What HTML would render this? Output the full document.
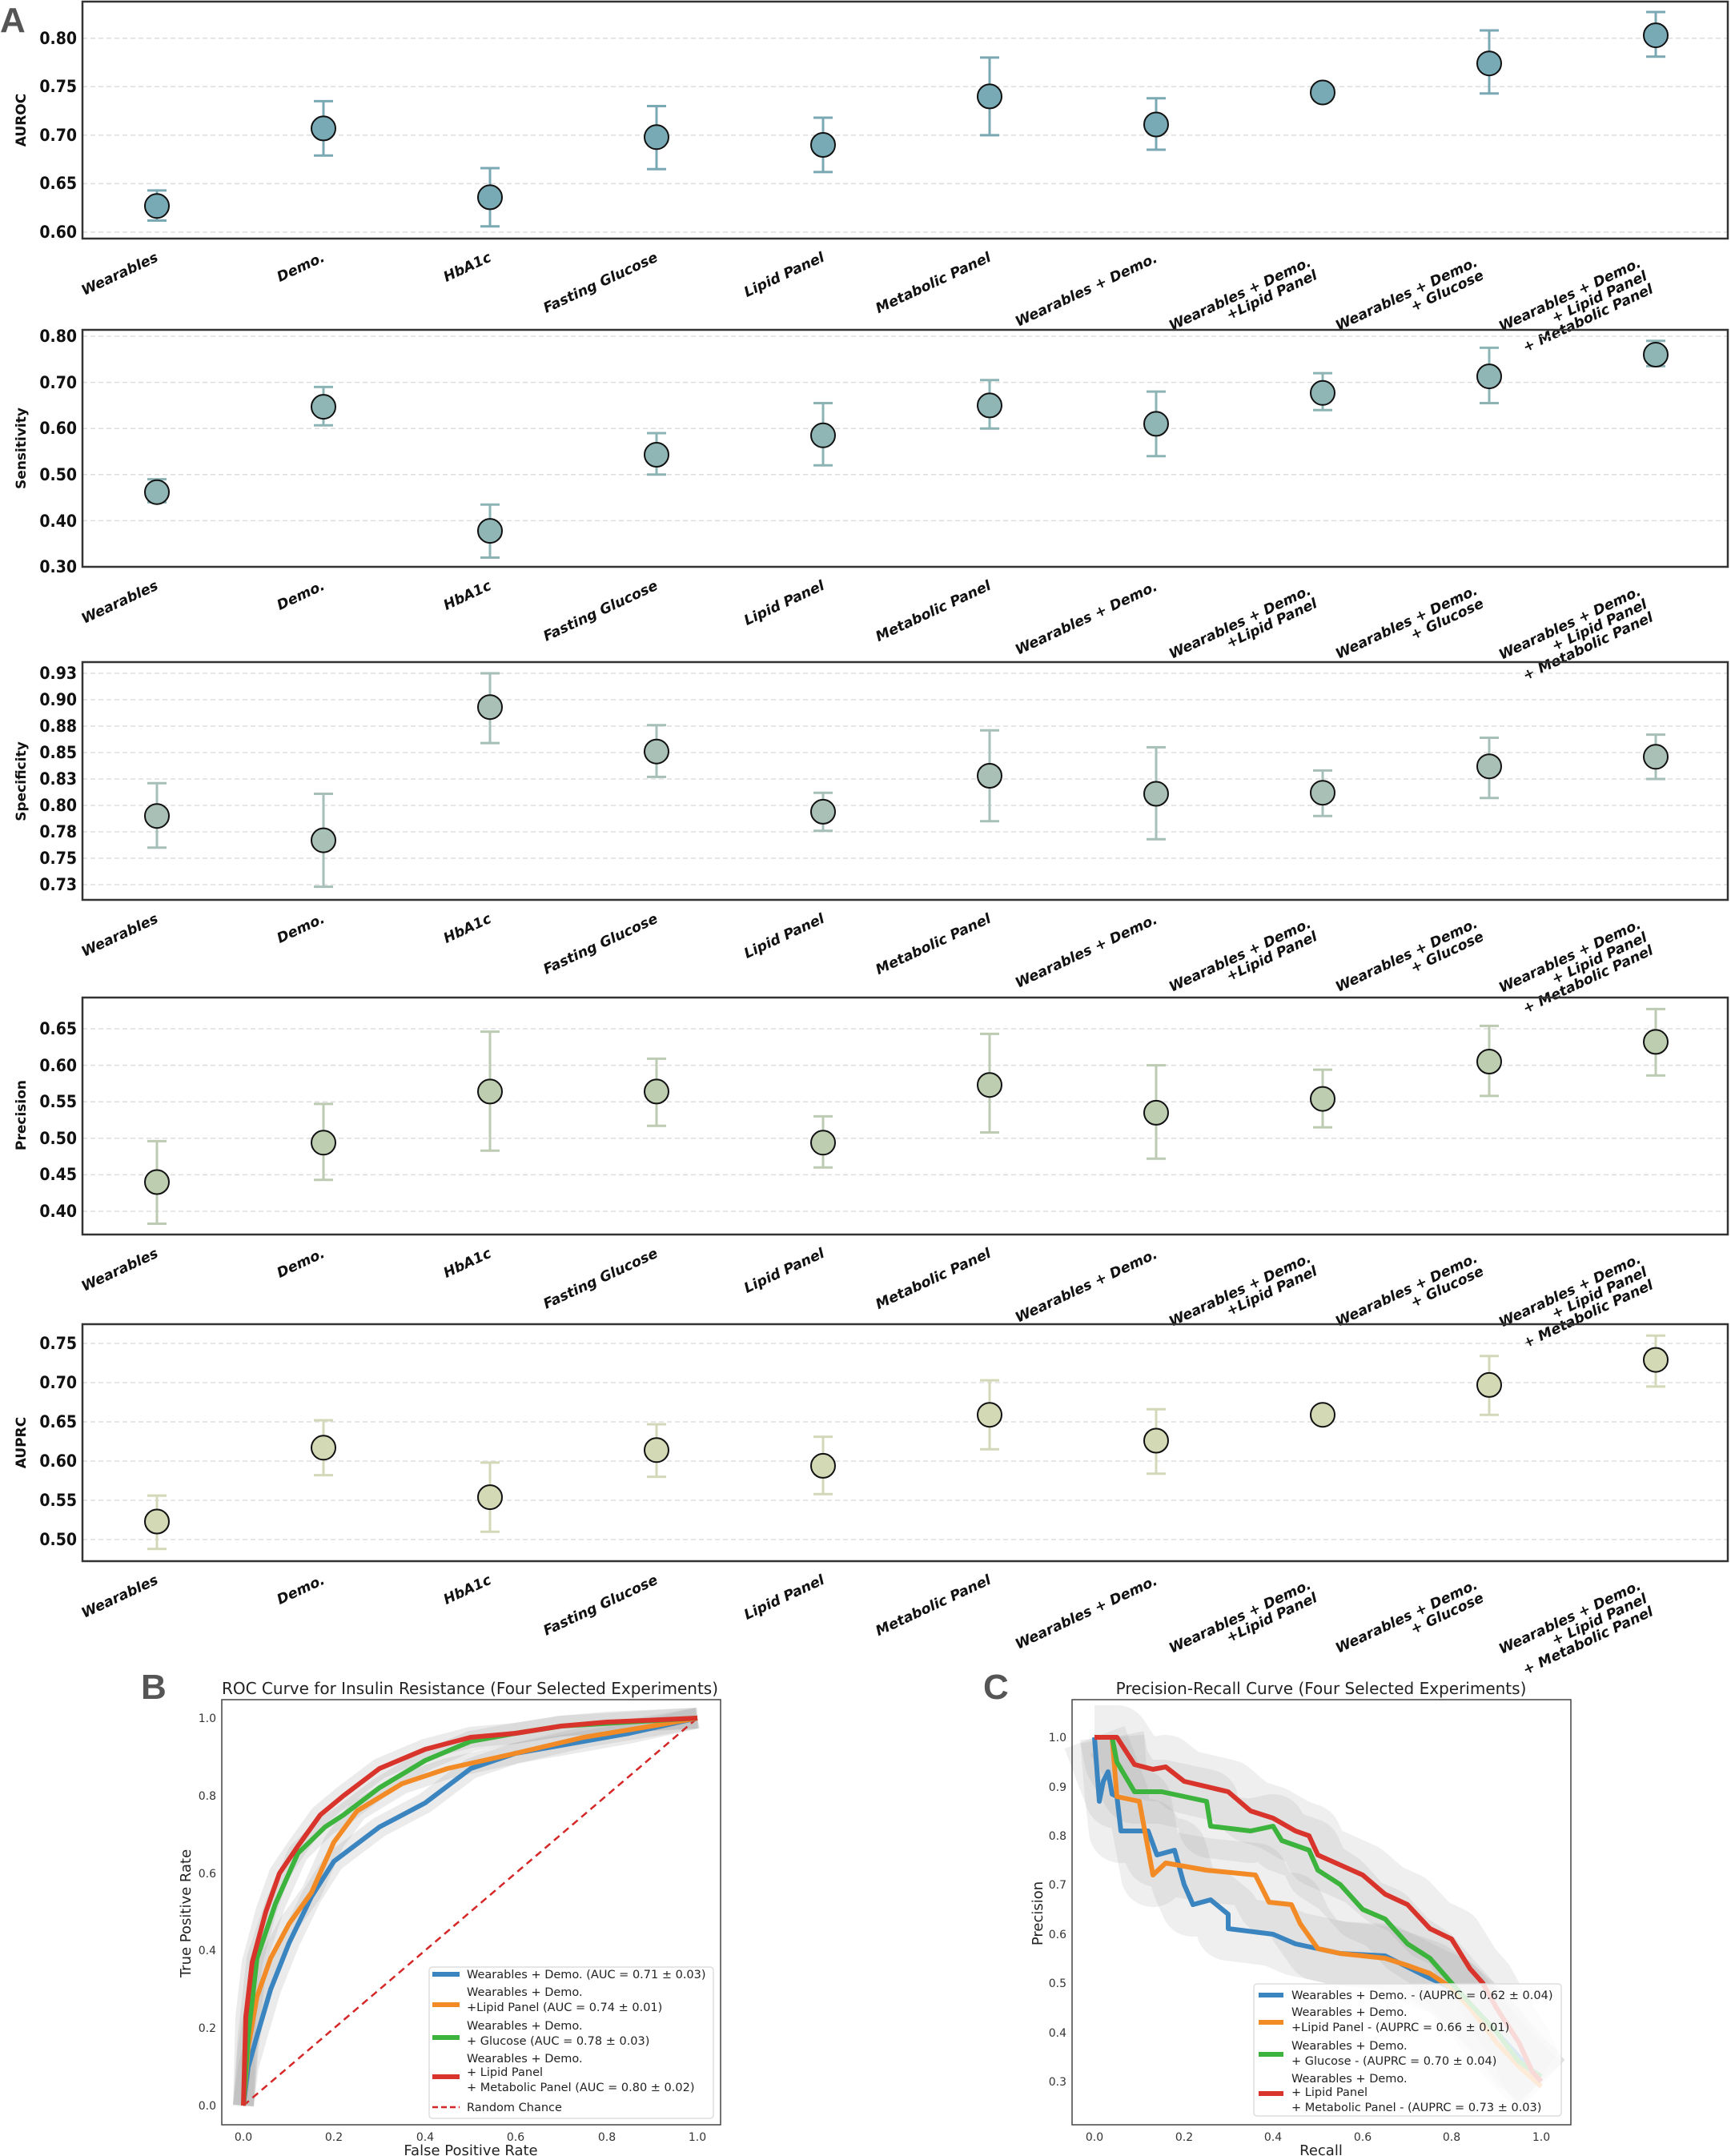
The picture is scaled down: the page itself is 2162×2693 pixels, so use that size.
<!DOCTYPE html>
<html><head><meta charset="utf-8"><style>
html,body{margin:0;padding:0;background:#fff;}
svg{display:block;}
.tk{font-family:"DejaVu Sans Condensed","Liberation Sans Narrow","Liberation Sans",sans-serif;font-weight:bold;font-size:21px;fill:#111;}
.yl{font-family:"DejaVu Sans","Liberation Sans",sans-serif;font-weight:bold;font-size:17px;fill:#111;}
.xl{font-family:"DejaVu Sans","Liberation Sans",sans-serif;font-weight:bold;font-style:italic;font-size:17.5px;fill:#111;}
.sm{font-family:"DejaVu Sans","Liberation Sans",sans-serif;font-size:14px;fill:#333;}
.lg{font-family:"DejaVu Sans","Liberation Sans",sans-serif;font-size:14.5px;fill:#222;}
.ti{font-family:"DejaVu Sans","Liberation Sans",sans-serif;font-size:20px;fill:#222;}
.ax{font-family:"DejaVu Sans","Liberation Sans",sans-serif;font-size:18px;fill:#222;}
.big{font-family:"Liberation Sans",sans-serif;font-weight:bold;font-size:44px;fill:#555;}
.grid line{stroke:#ddd;stroke-width:1.5;stroke-dasharray:6,4;}
</style></head><body>
<svg width="2162" height="2693" viewBox="0 0 2162 2693" xmlns="http://www.w3.org/2000/svg">
<defs>
<g id="xlabs">
<g transform="translate(192,311) rotate(-25)"><text class="xl" text-anchor="end" y="16">Wearables</text></g>
<g transform="translate(400,311) rotate(-25)"><text class="xl" text-anchor="end" y="16">Demo.</text></g>
<g transform="translate(608,311) rotate(-25)"><text class="xl" text-anchor="end" y="16">HbA1c</text></g>
<g transform="translate(816,311) rotate(-25)"><text class="xl" text-anchor="end" y="16">Fasting Glucose</text></g>
<g transform="translate(1024,311) rotate(-25)"><text class="xl" text-anchor="end" y="16">Lipid Panel</text></g>
<g transform="translate(1232,311) rotate(-25)"><text class="xl" text-anchor="end" y="16">Metabolic Panel</text></g>
<g transform="translate(1440,312) rotate(-25)"><text class="xl" text-anchor="end" y="16">Wearables + Demo.</text></g>
<g transform="translate(1632,317) rotate(-25)"><text class="xl" text-anchor="end" y="16">Wearables + Demo.</text><text class="xl" text-anchor="end" y="34">+Lipid Panel</text></g>
<g transform="translate(1840,317) rotate(-25)"><text class="xl" text-anchor="end" y="16">Wearables + Demo.</text><text class="xl" text-anchor="end" y="34">+ Glucose</text></g>
<g transform="translate(2044,318) rotate(-25)"><text class="xl" text-anchor="end" y="16">Wearables + Demo.</text><text class="xl" text-anchor="end" y="34">+ Lipid Panel</text><text class="xl" text-anchor="end" y="52">+ Metabolic Panel</text></g>
</g>
</defs>

<text class="big" x="0" y="40">A</text>

<!-- Panel 1 AUROC -->
<g class="grid"><line x1="103" x2="2158" y1="290" y2="290"/><line x1="103" x2="2158" y1="229.4" y2="229.4"/><line x1="103" x2="2158" y1="168.9" y2="168.9"/><line x1="103" x2="2158" y1="108.3" y2="108.3"/><line x1="103" x2="2158" y1="47.7" y2="47.7"/></g>
<g class="tk" text-anchor="end"><text x="96" y="297">0.60</text><text x="96" y="236">0.65</text><text x="96" y="176">0.70</text><text x="96" y="115">0.75</text><text x="96" y="55">0.80</text></g>
<text class="yl" transform="translate(32,150) rotate(-90)" text-anchor="middle">AUROC</text>
<g stroke="#7aa9b3" stroke-width="3" fill="none">
<path d="M196 275.5V237.9M184 275.5H208M184 237.9H208"/>
<path d="M404 194.3V126.4M392 194.3H416M392 126.4H416"/>
<path d="M612 282.7V210M600 282.7H624M600 210H624"/>
<path d="M820 211.3V132.5M808 211.3H832M808 132.5H832"/>
<path d="M1028 214.9V147M1016 214.9H1040M1016 147H1040"/>
<path d="M1236 168.9V71.9M1224 168.9H1248M1224 71.9H1248"/>
<path d="M1444 187V122.8M1432 187H1456M1432 122.8H1456"/>
<path d="M1652 119.2V111.9M1640 119.2H1664M1640 111.9H1664"/>
<path d="M1860 116.7V38M1848 116.7H1872M1848 38H1872"/>
<path d="M2068 70.7V15M2056 70.7H2080M2056 15H2080"/>
</g>
<g fill="#78aab5" stroke="#111" stroke-width="2">
<circle cx="196" cy="257.3" r="15"/><circle cx="404" cy="160.4" r="15"/><circle cx="612" cy="246.4" r="15"/><circle cx="820" cy="171.3" r="15"/><circle cx="1028" cy="181" r="15"/><circle cx="1236" cy="120.4" r="15"/><circle cx="1444" cy="155.5" r="15"/><circle cx="1652" cy="115.5" r="15"/><circle cx="1860" cy="79.2" r="15"/><circle cx="2068" cy="44.1" r="15"/>
</g>
<rect x="103" y="2" width="2055" height="296" fill="none" stroke="#333" stroke-width="2.5"/>
<use href="#xlabs"/>

<!-- Panel 2 Sensitivity -->
<g class="grid"><line x1="103" x2="2158" y1="650.4" y2="650.4"/><line x1="103" x2="2158" y1="592.8" y2="592.8"/><line x1="103" x2="2158" y1="535.2" y2="535.2"/><line x1="103" x2="2158" y1="477.6" y2="477.6"/><line x1="103" x2="2158" y1="420" y2="420"/></g>
<g class="tk" text-anchor="end"><text x="96" y="715">0.30</text><text x="96" y="658">0.40</text><text x="96" y="600">0.50</text><text x="96" y="542">0.60</text><text x="96" y="485">0.70</text><text x="96" y="427">0.80</text></g>
<text class="yl" transform="translate(32,560) rotate(-90)" text-anchor="middle">Sensitivity</text>
<g stroke="#8db4b4" stroke-width="3" fill="none">
<path d="M196 627.4V598.6M184 627.4H208M184 598.6H208"/>
<path d="M404 531.2V483.4M392 531.2H416M392 483.4H416"/>
<path d="M612 696.5V630.2M600 696.5H624M600 630.2H624"/>
<path d="M820 592.8V541M808 592.8H832M808 541H832"/>
<path d="M1028 581.3V503.5M1016 581.3H1040M1016 503.5H1040"/>
<path d="M1236 535.2V474.7M1224 535.2H1248M1224 474.7H1248"/>
<path d="M1444 569.8V489.1M1432 569.8H1456M1432 489.1H1456"/>
<path d="M1652 512.2V466.1M1640 512.2H1664M1640 466.1H1664"/>
<path d="M1860 503.5V434.4M1848 503.5H1872M1848 434.4H1872"/>
<path d="M2068 457.4V425.8M2056 457.4H2080M2056 425.8H2080"/>
</g>
<g fill="#8fb5b5" stroke="#111" stroke-width="2">
<circle cx="196" cy="614.7" r="15"/><circle cx="404" cy="508.1" r="15"/><circle cx="612" cy="663.1" r="15"/><circle cx="820" cy="568" r="15"/><circle cx="1028" cy="543.8" r="15"/><circle cx="1236" cy="506.4" r="15"/><circle cx="1444" cy="529.4" r="15"/><circle cx="1652" cy="490.8" r="15"/><circle cx="1860" cy="470.1" r="15"/><circle cx="2068" cy="443" r="15"/>
</g>
<rect x="103" y="412" width="2055" height="296" fill="none" stroke="#333" stroke-width="2.5"/>
<use href="#xlabs" transform="translate(0,410)"/>

<!-- Panel 3 Specificity -->
<g class="grid"><line x1="103" x2="2158" y1="1105" y2="1105"/><line x1="103" x2="2158" y1="1072" y2="1072"/><line x1="103" x2="2158" y1="1039" y2="1039"/><line x1="103" x2="2158" y1="1006" y2="1006"/><line x1="103" x2="2158" y1="973" y2="973"/><line x1="103" x2="2158" y1="940" y2="940"/><line x1="103" x2="2158" y1="907" y2="907"/><line x1="103" x2="2158" y1="874" y2="874"/><line x1="103" x2="2158" y1="841" y2="841"/></g>
<g class="tk" text-anchor="end"><text x="96" y="1112">0.73</text><text x="96" y="1079">0.75</text><text x="96" y="1046">0.78</text><text x="96" y="1013">0.80</text><text x="96" y="980">0.83</text><text x="96" y="947">0.85</text><text x="96" y="914">0.88</text><text x="96" y="881">0.90</text><text x="96" y="848">0.93</text></g>
<text class="yl" transform="translate(32,976) rotate(-90)" text-anchor="middle">Specificity</text>
<g stroke="#a6bfb8" stroke-width="3" fill="none">
<path d="M196 1058.8V978.3M184 1058.8H208M184 978.3H208"/>
<path d="M404 1107.6V991.5M392 1107.6H416M392 991.5H416"/>
<path d="M612 928.1V841M600 928.1H624M600 841H624"/>
<path d="M820 970.4V905.7M808 970.4H832M808 905.7H832"/>
<path d="M1028 1037.7V990.2M1016 1037.7H1040M1016 990.2H1040"/>
<path d="M1236 1025.8V912.3M1224 1025.8H1248M1224 912.3H1248"/>
<path d="M1444 1048.2V933.4M1432 1048.2H1456M1432 933.4H1456"/>
<path d="M1652 1019.2V962.4M1640 1019.2H1664M1640 962.4H1664"/>
<path d="M1860 996.8V921.5M1848 996.8H1872M1848 921.5H1872"/>
<path d="M2068 973V917.6M2056 973H2080M2056 917.6H2080"/>
</g>
<g fill="#a8c0b5" stroke="#111" stroke-width="2">
<circle cx="196" cy="1019.2" r="15"/><circle cx="404" cy="1049.6" r="15"/><circle cx="612" cy="883.2" r="15"/><circle cx="820" cy="938.7" r="15"/><circle cx="1028" cy="1013.9" r="15"/><circle cx="1236" cy="969" r="15"/><circle cx="1444" cy="991.5" r="15"/><circle cx="1652" cy="990.2" r="15"/><circle cx="1860" cy="957.2" r="15"/><circle cx="2068" cy="945.3" r="15"/>
</g>
<rect x="103" y="827" width="2055" height="297" fill="none" stroke="#333" stroke-width="2.5"/>
<use href="#xlabs" transform="translate(0,826)"/>

<!-- Panel 4 Precision -->
<g class="grid"><line x1="103" x2="2158" y1="1513" y2="1513"/><line x1="103" x2="2158" y1="1467.4" y2="1467.4"/><line x1="103" x2="2158" y1="1421.8" y2="1421.8"/><line x1="103" x2="2158" y1="1376.2" y2="1376.2"/><line x1="103" x2="2158" y1="1330.6" y2="1330.6"/><line x1="103" x2="2158" y1="1285" y2="1285"/></g>
<g class="tk" text-anchor="end"><text x="96" y="1520">0.40</text><text x="96" y="1474">0.45</text><text x="96" y="1429">0.50</text><text x="96" y="1383">0.55</text><text x="96" y="1338">0.60</text><text x="96" y="1292">0.65</text></g>
<text class="yl" transform="translate(32,1393) rotate(-90)" text-anchor="middle">Precision</text>
<g stroke="#bccbb2" stroke-width="3" fill="none">
<path d="M196 1528.5V1425.4M184 1528.5H208M184 1425.4H208"/>
<path d="M404 1473.8V1378.9M392 1473.8H416M392 1378.9H416"/>
<path d="M612 1437.3V1288.6M600 1437.3H624M600 1288.6H624"/>
<path d="M820 1406.3V1322.4M808 1406.3H832M808 1322.4H832"/>
<path d="M1028 1458.3V1394.4M1016 1458.3H1040M1016 1394.4H1040"/>
<path d="M1236 1414.5V1291.4M1224 1414.5H1248M1224 1291.4H1248"/>
<path d="M1444 1447.3V1330.6M1432 1447.3H1456M1432 1330.6H1456"/>
<path d="M1652 1408.1V1336.1M1640 1408.1H1664M1640 1336.1H1664"/>
<path d="M1860 1368.9V1281.4M1848 1368.9H1872M1848 1281.4H1872"/>
<path d="M2068 1343.4V1260.4M2056 1343.4H2080M2056 1260.4H2080"/>
</g>
<g fill="#bdcdb0" stroke="#111" stroke-width="2">
<circle cx="196" cy="1476.5" r="15"/><circle cx="404" cy="1427.3" r="15"/><circle cx="612" cy="1363.4" r="15"/><circle cx="820" cy="1363.4" r="15"/><circle cx="1028" cy="1427.3" r="15"/><circle cx="1236" cy="1355.2" r="15"/><circle cx="1444" cy="1389.9" r="15"/><circle cx="1652" cy="1372.6" r="15"/><circle cx="1860" cy="1326" r="15"/><circle cx="2068" cy="1301.4" r="15"/>
</g>
<rect x="103" y="1246" width="2055" height="296" fill="none" stroke="#333" stroke-width="2.5"/>
<use href="#xlabs" transform="translate(0,1244)"/>

<!-- Panel 5 AUPRC -->
<g class="grid"><line x1="103" x2="2158" y1="1923" y2="1923"/><line x1="103" x2="2158" y1="1874" y2="1874"/><line x1="103" x2="2158" y1="1825" y2="1825"/><line x1="103" x2="2158" y1="1776" y2="1776"/><line x1="103" x2="2158" y1="1727" y2="1727"/><line x1="103" x2="2158" y1="1678" y2="1678"/></g>
<g class="tk" text-anchor="end"><text x="96" y="1930">0.50</text><text x="96" y="1881">0.55</text><text x="96" y="1832">0.60</text><text x="96" y="1783">0.65</text><text x="96" y="1734">0.70</text><text x="96" y="1685">0.75</text></g>
<text class="yl" transform="translate(32,1802) rotate(-90)" text-anchor="middle">AUPRC</text>
<g stroke="#d3d8b8" stroke-width="3" fill="none">
<path d="M196 1934.8V1868.1M184 1934.8H208M184 1868.1H208"/>
<path d="M404 1842.6V1774M392 1842.6H416M392 1774H416"/>
<path d="M612 1913.2V1826.9M600 1913.2H624M600 1826.9H624"/>
<path d="M820 1844.6V1779M808 1844.6H832M808 1779H832"/>
<path d="M1028 1866.2V1794.6M1016 1866.2H1040M1016 1794.6H1040"/>
<path d="M1236 1810.3V1724.1M1224 1810.3H1248M1224 1724.1H1248"/>
<path d="M1444 1840.7V1760.3M1432 1840.7H1456M1432 1760.3H1456"/>
<path d="M1652 1770.1V1764.2M1640 1770.1H1664M1640 1764.2H1664"/>
<path d="M1860 1767.2V1693.7M1848 1767.2H1872M1848 1693.7H1872"/>
<path d="M2068 1731.9V1668.2M2056 1731.9H2080M2056 1668.2H2080"/>
</g>
<g fill="#d3d8b5" stroke="#111" stroke-width="2">
<circle cx="196" cy="1900.5" r="15"/><circle cx="404" cy="1808.3" r="15"/><circle cx="612" cy="1870.1" r="15"/><circle cx="820" cy="1811.3" r="15"/><circle cx="1028" cy="1830.9" r="15"/><circle cx="1236" cy="1767.2" r="15"/><circle cx="1444" cy="1799.5" r="15"/><circle cx="1652" cy="1767.2" r="15"/><circle cx="1860" cy="1729.9" r="15"/><circle cx="2068" cy="1698.6" r="15"/>
</g>
<rect x="103" y="1654" width="2055" height="296" fill="none" stroke="#333" stroke-width="2.5"/>
<use href="#xlabs" transform="translate(0,1652)"/>

<!-- Panel B ROC -->
<text class="big" x="176" y="2122">B</text>
<text class="ti" x="587" y="2116" text-anchor="middle">ROC Curve for Insulin Resistance (Four Selected Experiments)</text>
<g fill="none" stroke="#999" stroke-opacity="0.2" stroke-linejoin="round" stroke-width="26">
<polyline points="304,2630 307,2519 315,2451 332,2388 349,2340 372,2306 400,2267 429,2243 474,2209 531,2185 588,2170 644,2165 701,2156 758,2151 871,2146"/>
<polyline points="304,2630 310,2543 321,2446 344,2378 372,2315 406,2282 429,2267 474,2233 531,2199 588,2175 644,2165 701,2156 786,2151 871,2146"/>
<polyline points="304,2630 310,2557 321,2494 338,2446 361,2403 389,2364 417,2301 446,2262 502,2228 559,2209 644,2190 729,2170 814,2156 871,2146"/>
<polyline points="304,2630 310,2582 321,2543 338,2485 361,2427 389,2369 417,2325 474,2282 531,2252 588,2209 644,2190 701,2180 786,2165 871,2146"/>
</g>
<line x1="304" y1="2630" x2="871" y2="2146" stroke="#d62728" stroke-width="2.5" stroke-dasharray="9,6"/>
<g fill="none" stroke-width="6" stroke-linejoin="round">
<polyline stroke="#3a84c0" points="304,2630 310,2582 321,2543 338,2485 361,2427 389,2369 417,2325 474,2282 531,2252 588,2209 644,2190 701,2180 786,2165 871,2146"/>
<polyline stroke="#f28a25" points="304,2630 310,2557 321,2494 338,2446 361,2403 389,2364 417,2301 446,2262 502,2228 559,2209 644,2190 729,2170 814,2156 871,2146"/>
<polyline stroke="#3cb33c" points="304,2630 310,2543 321,2446 344,2378 372,2315 406,2282 429,2267 474,2233 531,2199 588,2175 644,2165 701,2156 786,2151 871,2146"/>
<polyline stroke="#d8342c" points="304,2630 307,2519 315,2451 332,2388 349,2340 372,2306 400,2267 429,2243 474,2209 531,2185 588,2170 644,2165 701,2156 758,2151 871,2146"/>
</g>
<rect x="536" y="2457" width="355" height="189" rx="4" fill="#fff" fill-opacity="0.85" stroke="#ddd" stroke-width="1.5"/>
<g stroke-width="6"><line x1="540" x2="574" y1="2466" y2="2466" stroke="#3a84c0"/><line x1="540" x2="574" y1="2504" y2="2504" stroke="#f28a25"/><line x1="540" x2="574" y1="2545" y2="2545" stroke="#3cb33c"/><line x1="540" x2="574" y1="2594" y2="2594" stroke="#d8342c"/></g>
<line x1="540" x2="574" y1="2632" y2="2632" stroke="#d62728" stroke-width="2.5" stroke-dasharray="7,4"/>
<g class="lg"><text x="583" y="2471">Wearables + Demo. (AUC = 0.71 ± 0.03)</text><text x="583" y="2493">Wearables + Demo.</text><text x="583" y="2512">+Lipid Panel (AUC = 0.74 ± 0.01)</text><text x="583" y="2535">Wearables + Demo.</text><text x="583" y="2554"> + Glucose (AUC = 0.78 ± 0.03)</text><text x="583" y="2576">Wearables + Demo.</text><text x="583" y="2593">+ Lipid Panel</text><text x="583" y="2612">+ Metabolic Panel (AUC = 0.80 ± 0.02)</text><text x="583" y="2637">Random Chance</text></g>
<rect x="277" y="2123" width="623" height="531" fill="none" stroke="#444" stroke-width="1.5"/>
<g class="sm" text-anchor="middle"><text x="304" y="2674">0.0</text><text x="417" y="2674">0.2</text><text x="531" y="2674">0.4</text><text x="644" y="2674">0.6</text><text x="758" y="2674">0.8</text><text x="871" y="2674">1.0</text></g>
<g class="sm" text-anchor="end"><text x="270" y="2635">0.0</text><text x="270" y="2538">0.2</text><text x="270" y="2441">0.4</text><text x="270" y="2345">0.6</text><text x="270" y="2248">0.8</text><text x="270" y="2151">1.0</text></g>
<text class="ax" x="588" y="2692" text-anchor="middle">False Positive Rate</text>
<text class="ax" transform="translate(238,2390) rotate(-90)" text-anchor="middle">True Positive Rate</text>

<!-- Panel C PR -->
<text class="big" x="1228" y="2122">C</text>
<text class="ti" x="1650" y="2116" text-anchor="middle">Precision-Recall Curve (Four Selected Experiments)</text>
<g fill="none" stroke="#999" stroke-opacity="0.16" stroke-linejoin="round" stroke-width="80">
<polyline points="1367,2170 1395,2170 1417,2204 1440,2210 1456,2207 1479,2225 1534,2238 1562,2262 1590,2271 1618,2287 1635,2293 1646,2317 1702,2342 1730,2366 1758,2379 1786,2409 1813,2422 1836,2459 1852,2477 1869,2508 1897,2551 1914,2588 1925,2600"/>
<polyline points="1389,2170 1395,2201 1417,2238 1451,2238 1507,2250 1512,2281 1562,2287 1590,2281 1601,2299 1635,2311 1646,2336 1674,2354 1702,2385 1730,2397 1758,2428 1786,2446 1813,2477 1841,2508 1869,2538 1897,2575 1925,2594"/>
<polyline points="1389,2170 1395,2244 1423,2250 1440,2342 1456,2327 1507,2336 1568,2342 1585,2376 1613,2379 1624,2403 1646,2434 1674,2440 1730,2446 1758,2455 1786,2465 1813,2483 1841,2514 1869,2551 1897,2581 1925,2606"/>
<polyline points="1367,2170 1395,2244 1400,2287 1434,2287 1445,2317 1467,2311 1479,2354 1490,2379 1512,2373 1534,2391 1534,2409 1590,2416 1618,2428 1646,2434 1674,2440 1730,2443 1786,2471 1813,2483 1841,2508 1869,2538 1897,2569 1925,2600"/>
</g>
<g fill="none" stroke-width="6" stroke-linejoin="round">
<polyline stroke="#3a84c0" points="1367,2170 1373,2250 1378,2225 1384,2213 1389,2241 1395,2244 1400,2287 1434,2287 1445,2317 1467,2311 1479,2354 1490,2379 1512,2373 1534,2391 1534,2409 1590,2416 1618,2428 1646,2434 1674,2440 1730,2443 1786,2471 1813,2483 1841,2508 1869,2538 1897,2569 1925,2600"/>
<polyline stroke="#f28a25" points="1389,2170 1395,2244 1423,2250 1440,2342 1456,2327 1507,2336 1568,2342 1585,2376 1613,2379 1624,2403 1646,2434 1674,2440 1730,2446 1758,2455 1786,2465 1813,2483 1841,2514 1869,2551 1897,2581 1925,2606"/>
<polyline stroke="#3cb33c" points="1389,2170 1395,2201 1417,2238 1451,2238 1507,2250 1512,2281 1562,2287 1590,2281 1601,2299 1635,2311 1646,2336 1674,2354 1702,2385 1730,2397 1758,2428 1786,2446 1813,2477 1841,2508 1869,2538 1897,2575 1925,2594"/>
<polyline stroke="#d8342c" points="1367,2170 1395,2170 1417,2204 1440,2210 1456,2207 1479,2225 1534,2238 1562,2262 1590,2271 1618,2287 1635,2293 1646,2317 1702,2342 1730,2366 1758,2379 1786,2409 1813,2422 1836,2459 1852,2477 1869,2508 1897,2551 1914,2588 1925,2600"/>
</g>
<rect x="1566" y="2478" width="384" height="165" rx="4" fill="#fff" fill-opacity="0.82" stroke="#ddd" stroke-width="1.5"/>
<g stroke-width="6"><line x1="1572" x2="1603" y1="2492" y2="2492" stroke="#3a84c0"/><line x1="1572" x2="1603" y1="2526" y2="2526" stroke="#f28a25"/><line x1="1572" x2="1603" y1="2566" y2="2566" stroke="#3cb33c"/><line x1="1572" x2="1603" y1="2615" y2="2615" stroke="#d8342c"/></g>
<g class="lg"><text x="1613" y="2497">Wearables + Demo. - (AUPRC = 0.62 ± 0.04)</text><text x="1613" y="2518">Wearables + Demo.</text><text x="1613" y="2537">+Lipid Panel - (AUPRC = 0.66 ± 0.01)</text><text x="1613" y="2560">Wearables + Demo.</text><text x="1613" y="2579"> + Glucose - (AUPRC = 0.70 ± 0.04)</text><text x="1613" y="2601">Wearables + Demo.</text><text x="1613" y="2618">+ Lipid Panel</text><text x="1613" y="2637">+ Metabolic Panel - (AUPRC = 0.73 ± 0.03)</text></g>
<rect x="1339" y="2123" width="623" height="531" fill="none" stroke="#444" stroke-width="1.5"/>
<g class="sm" text-anchor="middle"><text x="1367" y="2674">0.0</text><text x="1479" y="2674">0.2</text><text x="1590" y="2674">0.4</text><text x="1702" y="2674">0.6</text><text x="1813" y="2674">0.8</text><text x="1925" y="2674">1.0</text></g>
<g class="sm" text-anchor="end"><text x="1332" y="2605">0.3</text><text x="1332" y="2544">0.4</text><text x="1332" y="2482">0.5</text><text x="1332" y="2421">0.6</text><text x="1332" y="2359">0.7</text><text x="1332" y="2298">0.8</text><text x="1332" y="2237">0.9</text><text x="1332" y="2175">1.0</text></g>
<text class="ax" x="1650" y="2692" text-anchor="middle">Recall</text>
<text class="ax" transform="translate(1302,2390) rotate(-90)" text-anchor="middle">Precision</text>
</svg>
</body></html>
